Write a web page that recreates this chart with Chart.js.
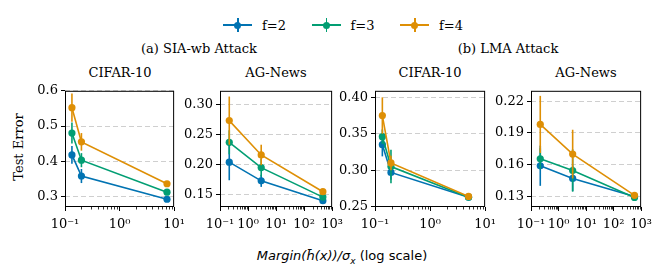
<!DOCTYPE html>
<html>
<head>
<meta charset="utf-8">
<script src="https://cdn.jsdelivr.net/npm/chart.js@4.4.0/dist/chart.umd.min.js"></script>
<style>
  body { margin: 0; width: 666px; height: 276px; background: #fff; position: relative; overflow: hidden;
         font-family: "DejaVu Serif", serif; color: #000; }
  canvas { position: absolute; }
  .txt { position: absolute; white-space: nowrap; transform: translate(-50%, -50%); font-size: 13px; }
  .leg { position: absolute; top: 17px; height: 16px; display: flex; align-items: center; font-size: 13px; }
  .mk { position: relative; width: 29px; height: 16px; margin-right: 10px; }
  .mk .h { position: absolute; left: 0; right: 0; top: 7px; height: 2px; }
  .mk .v { position: absolute; left: 14px; width: 1.6px; top: 1px; height: 14px; }
  .mk .d { position: absolute; left: 11px; top: 4.5px; width: 7px; height: 7px; border-radius: 50%; }
  .xlab { font-family: "DejaVu Sans", sans-serif; font-size: 13px; }
</style>
</head>
<body>

<div class="txt" style="left:199px; top:48px">(a) SIA-wb Attack</div>
<div class="txt" style="left:508px; top:48px">(b) LMA Attack</div>
<div class="txt" style="left:120px; top:72px">CIFAR-10</div>
<div class="txt" style="left:276px; top:72px">AG-News</div>
<div class="txt" style="left:430px; top:72px">CIFAR-10</div>
<div class="txt" style="left:586px; top:72px">AG-News</div>
<div class="txt" style="left:18px; top:147px; transform:translate(-50%,-50%) rotate(-90deg)">Test Error</div>
<div class="txt xlab" style="left:342px; top:257px"><i>Margin(h&#772;(x))/σ<sub style="font-size:9px">x</sub></i> (log scale)</div>

<script>
const SERIES_LABELS = ["f=2", "f=3", "f=4"];
const SERIES_COLORS = ["#0173b2", "#029e73", "#de8f05"];

// (a) SIA-wb, CIFAR-10
const SIA_CIFAR_X = [0.134, 0.2, 7.4];
const SIA_CIFAR_F2 = [0.418, 0.358, 0.292];
const SIA_CIFAR_F3 = [0.48, 0.403, 0.312];
const SIA_CIFAR_F4 = [0.552, 0.455, 0.336];
const SIA_CIFAR_E2 = [0.025, 0.02, 0.005];
const SIA_CIFAR_E3 = [0.03, 0.02, 0.005];
const SIA_CIFAR_E4 = [0.04, 0.025, 0.005];

// (a) SIA-wb, AG-News
const SIA_AG_X = [0.214, 2.95, 468];
const SIA_AG_F2 = [0.204, 0.173, 0.140];
const SIA_AG_F3 = [0.237, 0.195, 0.146];
const SIA_AG_F4 = [0.273, 0.216, 0.155];
const SIA_AG_E2 = [0.03, 0.01, 0.003];
const SIA_AG_E3 = [0.02, 0.015, 0.003];
const SIA_AG_E4 = [0.04, 0.017, 0.003];

// (b) LMA, CIFAR-10
const LMA_CIFAR_X = [0.136, 0.195, 5.0];
const LMA_CIFAR_F2 = [0.335, 0.297, 0.263];
const LMA_CIFAR_F3 = [0.346, 0.305, 0.263];
const LMA_CIFAR_F4 = [0.375, 0.31, 0.264];
const LMA_CIFAR_E2 = [0.016, 0.01, 0.002];
const LMA_CIFAR_E3 = [0.01, 0.023, 0.002];
const LMA_CIFAR_E4 = [0.025, 0.01, 0.002];

// (b) LMA, AG-News
const LMA_AG_X = [0.217, 3.26, 575];
const LMA_AG_F2 = [0.159, 0.147, 0.130];
const LMA_AG_F3 = [0.1655, 0.1545, 0.129];
const LMA_AG_F4 = [0.198, 0.170, 0.131];
const LMA_AG_E2 = [0.019, 0.012, 0.002];
const LMA_AG_E3 = [0.01, 0.02, 0.002];
const LMA_AG_E4 = [0.027, 0.023, 0.002];

const Y_TICKS_1 = [0.3, 0.4, 0.5, 0.6];
const Y_TICKS_2 = [0.15, 0.20, 0.25, 0.30];
const Y_TICKS_3 = [0.25, 0.30, 0.35, 0.40];
const Y_TICKS_4 = [0.13, 0.16, 0.19, 0.22];
const X_TICKS_SHORT = [0.1, 1, 10];
const X_TICKS_LONG = [0.1, 1, 10, 100, 1000];

const panels = [
  { id: "c1", left: 65, width: 110, x: SIA_CIFAR_X, ys: [SIA_CIFAR_F2, SIA_CIFAR_F3, SIA_CIFAR_F4],
    errs: [SIA_CIFAR_E2, SIA_CIFAR_E3, SIA_CIFAR_E4], xTicks: X_TICKS_SHORT, yTicks: Y_TICKS_1,
    yMin: 0.27, yMax: 0.6, dec: 1 },
  { id: "c2", left: 220, width: 113, x: SIA_AG_X, ys: [SIA_AG_F2, SIA_AG_F3, SIA_AG_F4],
    errs: [SIA_AG_E2, SIA_AG_E3, SIA_AG_E4], xTicks: X_TICKS_LONG, yTicks: Y_TICKS_2,
    yMin: 0.1296, yMax: 0.3225, dec: 2 },
  { id: "c3", left: 375, width: 111, x: LMA_CIFAR_X, ys: [LMA_CIFAR_F2, LMA_CIFAR_F3, LMA_CIFAR_F4],
    errs: [LMA_CIFAR_E2, LMA_CIFAR_E3, LMA_CIFAR_E4], xTicks: X_TICKS_SHORT, yTicks: Y_TICKS_3,
    yMin: 0.2495, yMax: 0.409, dec: 2 },
  { id: "c4", left: 531, width: 111, x: LMA_AG_X, ys: [LMA_AG_F2, LMA_AG_F3, LMA_AG_F4],
    errs: [LMA_AG_E2, LMA_AG_E3, LMA_AG_E4], xTicks: X_TICKS_LONG, yTicks: Y_TICKS_4,
    yMin: 0.12, yMax: 0.2298, dec: 2 },
];

const SUP = { "-": "\u207B", "0": "\u2070", "1": "\u00B9", "2": "\u00B2", "3": "\u00B3" };
function powLabel(v) {
  const e = String(Math.round(Math.log10(v)));
  return "10" + e.split("").map((c) => SUP[c]).join("");
}

// error bars, minor log ticks and the full frame
const extras = {
  id: "extras",
  beforeDatasetDraw(chart, args) {
    const ds = chart.data.datasets[args.index];
    const meta = args.meta;
    const y = chart.scales.y;
    const ctx = chart.ctx;
    ctx.save();
    ctx.strokeStyle = ds.borderColor;
    ctx.lineWidth = 1.6;
    ds.data.forEach((p, i) => {
      const px = meta.data[i].x;
      ctx.beginPath();
      ctx.moveTo(px, y.getPixelForValue(p.y - ds.errors[i]));
      ctx.lineTo(px, y.getPixelForValue(p.y + ds.errors[i]));
      ctx.stroke();
    });
    ctx.restore();
  },
  afterDraw(chart) {
    const { ctx, chartArea } = chart;
    const xs = chart.scales.x;
    ctx.save();
    ctx.strokeStyle = "#000";
    ctx.lineWidth = 0.8;
    for (let e = Math.floor(Math.log10(xs.min)); e < Math.log10(xs.max); e++) {
      for (let k = 2; k <= 9; k++) {
        const v = k * Math.pow(10, e);
        if (v <= xs.min || v >= xs.max) continue;
        const px = Math.round(xs.getPixelForValue(v)) + 0.5;
        ctx.beginPath();
        ctx.moveTo(px, chartArea.bottom);
        ctx.lineTo(px, chartArea.bottom + 2.5);
        ctx.stroke();
      }
    }
    ctx.lineWidth = 1;
    ctx.strokeRect(chartArea.left + 0.5, chartArea.top + 0.5,
      chartArea.right - chartArea.left - 1, chartArea.bottom - chartArea.top - 1);
    ctx.restore();
  },
};

const FONT = { family: "DejaVu Serif", size: 13 };
const PAD_L = 50, PAD_R = 16, TOP = 80, PAD_T = 7, PLOT_H = 120, BOT = 34;

panels.forEach((p) => {
  const canvas = document.createElement("canvas");
  canvas.width = PAD_L + p.width + PAD_R;
  canvas.height = PAD_T + PLOT_H + BOT;
  canvas.style.left = p.left - PAD_L + "px";
  canvas.style.top = TOP + "px";
  document.body.appendChild(canvas);

  const datasets = p.ys.map((vals, s) => ({
    label: SERIES_LABELS[s],
    data: vals.map((v, i) => ({ x: p.x[i], y: v })),
    errors: p.errs[s],
    borderColor: SERIES_COLORS[s],
    backgroundColor: SERIES_COLORS[s],
    borderWidth: 1.6,
    pointRadius: 3.6,
    pointHoverRadius: 3.6,
    pointBorderWidth: 0,
    tension: 0,
    clip: false,
    order: 2 - s,
  }));

  new Chart(canvas, {
    type: "line",
    data: { datasets },
    plugins: [extras],
    options: {
      responsive: false,
      animation: false,
      events: [],
      layout: { padding: { left: 0, right: PAD_R, top: PAD_T, bottom: 0 } },
      plugins: { legend: { display: false }, tooltip: { enabled: false } },
      scales: {
        x: {
          type: "logarithmic",
          min: p.xTicks[0],
          max: p.xTicks[p.xTicks.length - 1],
          afterBuildTicks: (s) => { s.ticks = p.xTicks.map((v) => ({ value: v })); },
          afterFit: (s) => { s.height = BOT; },
          ticks: {
            autoSkip: false, maxRotation: 0, padding: 6, color: "#000", font: FONT,
            callback: (v) => powLabel(v),
          },
          grid: { drawOnChartArea: false, drawTicks: true, tickLength: 4, tickColor: "#000", tickWidth: 1 },
          border: { display: false },
        },
        y: {
          min: p.yMin,
          max: p.yMax,
          afterBuildTicks: (s) => { s.ticks = p.yTicks.map((v) => ({ value: v })); },
          afterFit: (s) => { s.width = PAD_L; },
          ticks: { padding: 3, color: "#000", font: FONT, callback: (v) => v.toFixed(p.dec) },
          grid: { color: "#cfcfcf", lineWidth: 1, drawTicks: true, tickLength: 4, tickColor: "#000", tickWidth: 1 },
          border: { display: false, dash: [5, 3] },
        },
      },
    },
  });
});

// legend
SERIES_LABELS.forEach((label, s) => {
  const item = document.createElement("div");
  item.className = "leg";
  item.style.left = 223 + 88.5 * s + "px";
  const c = SERIES_COLORS[s];
  item.innerHTML =
    `<div class="mk"><div class="h" style="background:${c}"></div>` +
    `<div class="v" style="background:${c}"></div>` +
    `<div class="d" style="background:${c}"></div></div><span>${label}</span>`;
  document.body.appendChild(item);
});
</script>
</body>
</html>
